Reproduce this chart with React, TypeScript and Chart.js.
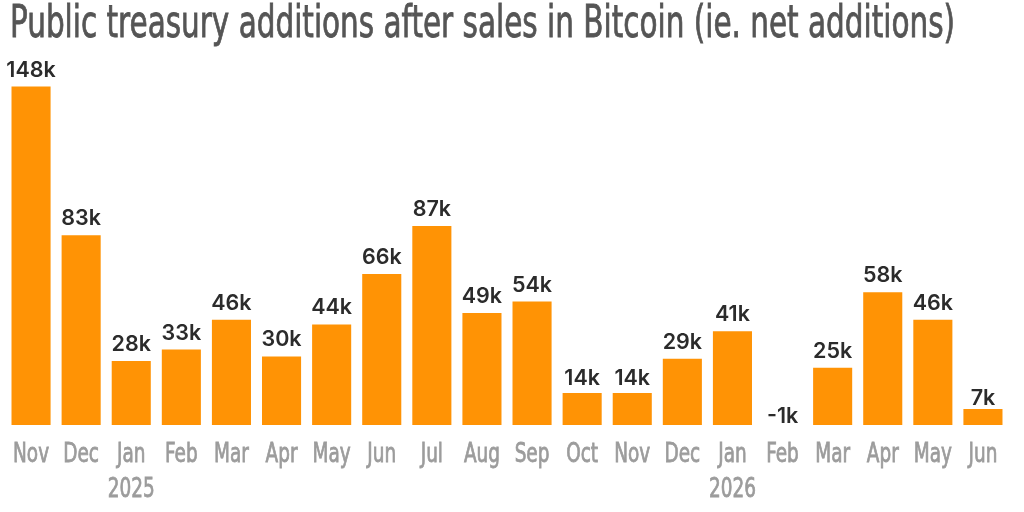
import React, { useEffect, useRef } from "react";
import { Chart, registerables } from "chart.js";

Chart.register(...registerables);

const TITLE = "Public treasury additions after sales in Bitcoin (ie. net additions)";
const MONTHS = ["Nov", "Dec", "Jan", "Feb", "Mar", "Apr", "May", "Jun", "Jul", "Aug", "Sep", "Oct", "Nov", "Dec", "Jan", "Feb", "Mar", "Apr", "May", "Jun"];
const YEAR_LABELS = ["", "", "2025", "", "", "", "", "", "", "", "", "", "", "", "2026", "", "", "", "", ""];
const NET_ADDITIONS_K = [148, 83, 28, 33, 46, 30, 44, 66, 87, 49, 54, 14, 14, 29, 41, -1, 25, 58, 46, 7];

const CONDENSED = "'DejaVu Sans Condensed', 'DejaVu Sans', sans-serif";

function drawSquished(ctx: CanvasRenderingContext2D, text: string, x: number, y: number, sx: number, stroke: number) {
  ctx.save();
  const w = ctx.measureText(text).width * sx;
  ctx.translate(x - w / 2, y);
  ctx.scale(sx, 1);
  ctx.textAlign = "left";
  ctx.fillText(text, 0, 0);
  if (stroke > 0) {
    ctx.lineWidth = stroke;
    ctx.strokeText(text, 0, 0);
  }
  ctx.restore();
}

const textPlugin = {
  id: "customText",
  afterDatasetsDraw(chart: any) {
    const { ctx } = chart;
    const meta = chart.getDatasetMeta(0);
    const xScale = chart.scales.x;
    const zeroY = chart.scales.y.getPixelForValue(0);
    ctx.save();
    ctx.textBaseline = "alphabetic";

    // Title
    ctx.font = `44px ${CONDENSED}`;
    ctx.fillStyle = "#555555";
    ctx.strokeStyle = "#555555";
    const tw = ctx.measureText(TITLE).width;
    ctx.save();
    ctx.translate(10, 37);
    ctx.scale(945 / tw, 1);
    ctx.lineWidth = 0.8;
    ctx.fillText(TITLE, 0, 0);
    ctx.strokeText(TITLE, 0, 0);
    ctx.restore();

    // Bar value labels
    ctx.font = "600 21.5px Inter, 'Noto Sans', sans-serif";
    ctx.fillStyle = "#2b2b2b";
    ctx.textAlign = "center";
    meta.data.forEach((bar: any, i: number) => {
      const v = NET_ADDITIONS_K[i];
      let y: number;
      if (v < 0) {
        y = zeroY - 2;
      } else {
        const h = zeroY - bar.y;
        y = bar.y - Math.min(10, h / 4);
      }
      ctx.fillText(`${v}k`, bar.x, y);
    });

    // Month / year tick labels
    ctx.font = `27px ${CONDENSED}`;
    ctx.fillStyle = "#9c9c9c";
    ctx.strokeStyle = "#9c9c9c";
    MONTHS.forEach((m, i) => {
      const x = xScale.getPixelForValue(i);
      drawSquished(ctx, m, x, 462, 0.76, 0.8);
      if (YEAR_LABELS[i]) drawSquished(ctx, YEAR_LABELS[i], x, 497, 0.76, 0.8);
    });
    ctx.restore();
  },
};

export default function App() {
  const ref = useRef<HTMLCanvasElement>(null);
  useEffect(() => {
    if (!ref.current) return;
    const chart = new Chart(ref.current, {
      type: "bar",
      data: {
        labels: MONTHS,
        datasets: [
          {
            data: NET_ADDITIONS_K,
            backgroundColor: "#FF9305",
            borderWidth: 0,
            barPercentage: 0.78,
            categoryPercentage: 1,
          },
        ],
      },
      options: {
        animation: false,
        responsive: true,
        maintainAspectRatio: false,
        layout: { padding: { left: 6, right: 16, top: 82, bottom: 87 } },
        plugins: {
          legend: { display: false },
          tooltip: { enabled: false },
          title: { display: false },
        },
        scales: {
          x: {
            display: false,
            grid: { display: false },
            border: { display: false },
            ticks: { display: false },
          },
          y: {
            display: false,
            min: 0,
            max: 150,
          },
        },
      },
      plugins: [textPlugin],
    });
    return () => chart.destroy();
  }, []);
  return (
    <div style={{ position: "fixed", left: 0, top: 0, width: 1024, height: 512, background: "#fff" }}>
      <canvas ref={ref} />
    </div>
  );
}
